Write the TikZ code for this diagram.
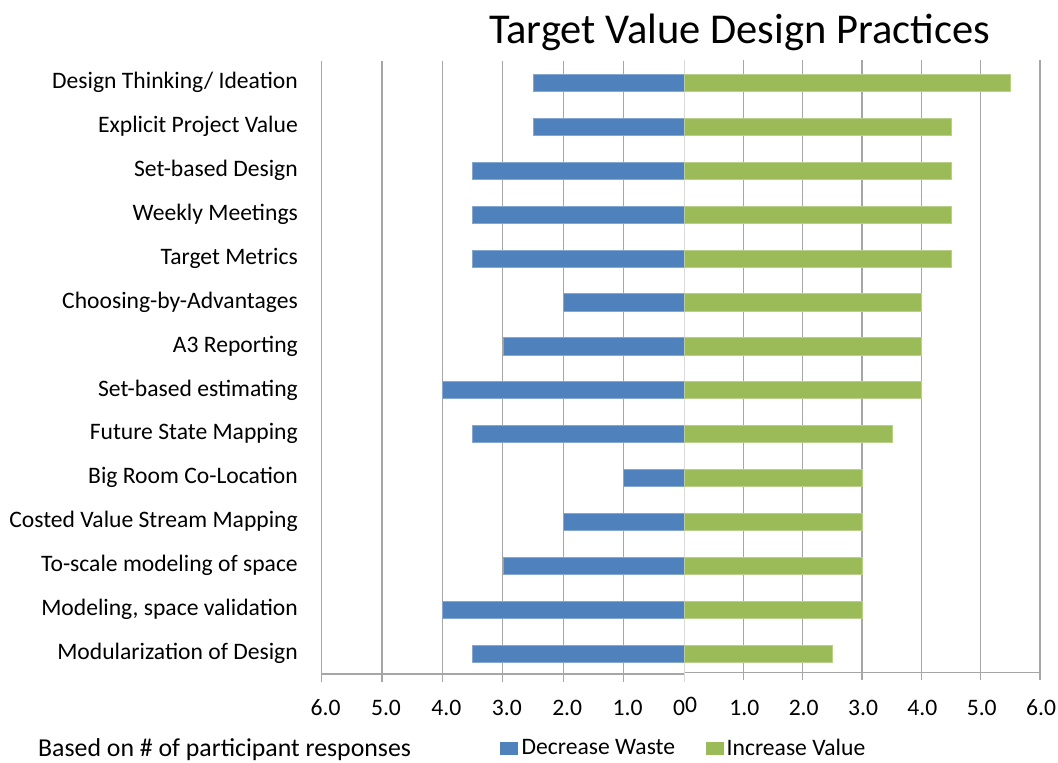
\documentclass[tikz,border=0pt]{standalone}
\usepackage{fontspec}
\setmainfont{Carlito}
\definecolor{wasteblue}{HTML}{4F81BD}
\definecolor{valuegreen}{HTML}{9BBB59}
\definecolor{gridgray}{HTML}{A6A6A6}
\definecolor{axisgray}{HTML}{D9D9D9}
\begin{document}
\begin{tikzpicture}[x=1pt,y=-1pt,
  lbl/.style={font=\fontsize{23.6}{27}\selectfont, inner sep=0pt},
  grid/.style={draw=gridgray, line width=1.3pt},
  bluebar/.style={fill=wasteblue, draw=wasteblue!70!white, line width=0.4pt},
  greenbar/.style={fill=valuegreen, draw=valuegreen!70!white, line width=0.4pt}]
\useasboundingbox (0,0) rectangle (1058,763);
\fill[white] (0,0) rectangle (1058,763);
% title
\node[font=\fontsize{42.5}{48}\selectfont, inner sep=0pt] (title) at (739.5,32) {Target Value Design Practices};
% left grid
\foreach \i in {0,...,5} {
  \draw[grid] ({684-60.4*(6-\i)},60.5) -- ({684-60.4*(6-\i)},681.5);
}
\draw[grid] (321.6,674) -- (684,674);
% right grid
\foreach \i in {1,...,6} {
  \draw[grid] ({684+59.35*\i},60) -- ({684+59.35*\i},680);
}
\draw[grid] (684,672.7) -- (1040.1,672.7);
% center axis
\draw[axisgray, line width=1pt] (684,60) -- (684,681.5);
% bars
\foreach \n/\b/\g/\t [count=\k from 0] in {
  dt/2.5/5.5/{Design Thinking/ Ideation},
  epv/2.5/4.5/{Explicit Project Value},
  sbd/3.5/4.5/{Set-based Design},
  wm/3.5/4.5/{Weekly Meetings},
  tm/3.5/4.5/{Target Metrics },
  cba/2.0/4.0/{Choosing-by-Advantages},
  a3/3.0/4.0/{A3 Reporting},
  sbe/4.0/4.0/{Set-based estimating},
  fsm/3.5/3.5/{Future State Mapping},
  brc/1.0/3.0/{Big Room Co-Location},
  cvs/2.0/3.0/{Costed Value Stream Mapping},
  tsm/3.0/3.0/{To-scale modeling of space },
  msv/4.0/3.0/{Modeling, space validation},
  mod/3.5/2.5/{Modularization of Design}} {
  \pgfmathsetmacro{\yc}{82.7+43.9*\k}
  \fill[bluebar] ({684-60.4*\b},\yc-8.6) rectangle (684,\yc+8.6);
  \fill[greenbar] (684,\yc-8.6) rectangle ({684+59.35*\g},\yc+8.6);
  \node[lbl, anchor=east] (c-\n) at (298,\yc) {\t};
}
% left tick labels
\foreach \v [count=\k from 0] in {6.0,5.0,4.0,3.0,2.0,1.0} {
  \node[lbl] (lt-\k) at ({684-60.4*(6-\k)+4},708) {\v};
}
\node[lbl] (lt-zero) at (679,708) {0};
\node[lbl] (rt-zero) at (691,705) {0};
\foreach \v [count=\k from 1] in {1.0,2.0,3.0,4.0,5.0,6.0} {
  \node[lbl] (rt-\k) at ({684+59.35*\k+1},708) {\v};
}
% footnote and legend
\node[font=\fontsize{25.8}{30}\selectfont, inner sep=0pt, anchor=west] (note) at (38,750) {Based on \# of participant responses};
\fill[wasteblue] (500,741.5) rectangle (518,755) coordinate (lgb);
\node[lbl, anchor=west] (leg-w) at (521.5,747) {Decrease Waste};
\fill[valuegreen] (706,741.5) rectangle (724,755) coordinate (lgg);
\node[lbl, anchor=west] (leg-v) at (726.5,747) {Increase Value};
\end{tikzpicture}
\end{document}
